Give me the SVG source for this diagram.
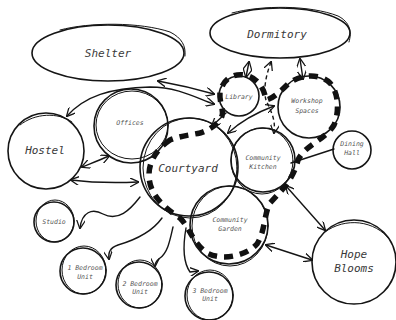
<svg xmlns="http://www.w3.org/2000/svg" width="396" height="320" viewBox="0 0 396 320">
<defs>
<style>
.sk{fill:none;stroke:#151515;stroke-width:1.6;stroke-linecap:round}
.sk2{fill:none;stroke:#151515;stroke-width:1;stroke-linecap:round}
.ln{fill:none;stroke:#151515;stroke-width:1.4;stroke-linecap:round;stroke-linejoin:round}
.dl{fill:none;stroke:#151515;stroke-width:1.4;stroke-dasharray:4 3}
.big{font-family:"DejaVu Sans Mono","Liberation Mono",monospace;font-style:italic;font-size:11px;fill:#3a3a3a;text-anchor:middle}
.sm{font-family:"DejaVu Sans Mono","Liberation Mono",monospace;font-style:italic;font-size:6.5px;fill:#555;text-anchor:middle}
</style>
<marker id="ah" viewBox="0 0 10 10" refX="9" refY="5" markerWidth="9" markerHeight="9" markerUnits="userSpaceOnUse" orient="auto-start-reverse">
<path d="M0,0 L10,5 L0,10" fill="none" stroke="#151515" stroke-width="1.4"/>
</marker>
</defs>
<rect width="396" height="320" fill="#fff"/>

<g id="connectors">
<path class="ln" marker-start="url(#ah)" marker-end="url(#ah)" d="M158,81 C180,85 200,90 214,94"/>
<path class="ln" marker-start="url(#ah)" marker-end="url(#ah)" d="M67,116 C85,96 110,88 150,87 C180,87 200,100 214,104"/>
<path class="ln" marker-start="url(#ah)" marker-end="url(#ah)" d="M82,167 C92,163 100,160 109,156"/>
<path class="ln" marker-start="url(#ah)" marker-end="url(#ah)" d="M71,180 C95,183 115,183 138,182"/>
<path class="ln" marker-end="url(#ah)" d="M140,197 C130,210 118,222 103,214 C92,208 82,212 80,228"/>
<path class="ln" marker-end="url(#ah)" d="M162,218 C152,232 135,240 118,245 C110,248 108,252 109,259"/>
<path class="ln" marker-end="url(#ah)" d="M173,227 C170,240 168,252 160,258 C156,261 155,263 155,266"/>
<path class="ln" marker-end="url(#ah)" d="M186,228 C183,245 183,262 190,272 L198,271"/>
<path class="ln" marker-start="url(#ah)" marker-end="url(#ah)" d="M249,62 L246,77"/>
<path class="ln" marker-start="url(#ah)" marker-end="url(#ah)" d="M300,59 L303,79"/>
<path class="dl" marker-start="url(#ah)" marker-end="url(#ah)" d="M271,62 C266,75 263,90 266,100 C270,110 276,118 274,133"/>
<path class="ln" marker-end="url(#ah)" d="M226,113 L212,126"/>
<path class="ln" marker-start="url(#ah)" marker-end="url(#ah)" d="M274,106 C258,112 240,122 228,133"/>
<path class="ln" d="M291,163 L334,149"/>
<path class="ln" marker-start="url(#ah)" marker-end="url(#ah)" d="M286,186 L325,230"/>
<path class="ln" marker-start="url(#ah)" marker-end="url(#ah)" d="M266,245 L312,260"/>
<path fill="none" stroke="#111" stroke-width="5.5" stroke-dasharray="9 7" d="M170,140 C158,148 149,160 149,175 C149,192 160,205 180,218 C190,228 192,242 207,253 C222,261 246,256 257,244 C265,232 264,214 270,203 C282,190 293,180 298,160 C305,145 325,140 334,125 C340,110 338,92 330,83 C320,73 300,74 288,84 C280,92 272,99 266,100 C264,88 258,78 245,75 C232,73 223,80 220,92 C219,102 224,110 222,116 C218,124 210,130 200,133 C190,135 180,136 170,140 Z"/>
</g>

<g id="shelter">
<ellipse class="sk" cx="108" cy="53" rx="76" ry="28"/>
<path class="sk2" d="M60,30 C90,22 140,22 170,32 C182,38 186,46 185,56"/>
<text class="big" x="108" y="57">Shelter</text>
</g>
<g id="dormitory">
<ellipse class="sk" cx="280" cy="33" rx="70" ry="25"/>
<path class="sk2" d="M232,13 C262,5 310,5 338,16 C350,22 352,32 349,42"/>
<text class="big" x="277" y="38">Dormitory</text>
</g>
<g id="hostel">
<circle class="sk" cx="46" cy="151" r="38"/>
<path class="sk2" d="M20,125 C35,113 58,112 72,122"/>
<text class="big" x="45" y="154">Hostel</text>
</g>
<g id="offices">
<circle class="sk" cx="131" cy="126" r="37"/>
<ellipse class="sk2" cx="132" cy="125" rx="36" ry="34"/>
<text class="sm" x="130" y="125">Offices</text>
</g>
<g id="courtyard">
<circle class="sk" cx="189" cy="167" r="49"/>
<ellipse class="sk2" cx="190" cy="168" rx="47" ry="50"/>
<text class="big" x="188" y="172">Courtyard</text>
</g>
<g id="library">
<circle class="sk" cx="239" cy="96" r="20"/>
<text class="sm" x="239" y="99">Library</text>
</g>
<g id="workshop">
<circle class="sk" cx="309" cy="107" r="31"/>
<text class="sm" x="307" y="103">Workshop</text>
<text class="sm" x="307" y="113">Spaces</text>
</g>
<g id="kitchen">
<circle class="sk" cx="263" cy="160" r="32"/>
<ellipse class="sk2" cx="262" cy="161" rx="31" ry="33"/>
<text class="sm" x="263" y="160">Community</text>
<text class="sm" x="263" y="169">Kitchen</text>
</g>
<g id="dining">
<circle class="sk" cx="352" cy="150" r="19"/>
<text class="sm" x="352" y="146">Dining</text>
<text class="sm" x="352" y="155">Hall</text>
</g>
<g id="garden">
<circle class="sk" cx="229" cy="225" r="39"/>
<ellipse class="sk2" cx="230" cy="226" rx="38" ry="40"/>
<text class="sm" x="230" y="222">Community</text>
<text class="sm" x="230" y="231">Garden</text>
</g>
<g id="hope">
<circle class="sk" cx="354" cy="262" r="42"/>
<path class="sk2" d="M325,232 C345,217 375,220 390,240"/>
<text class="big" x="354" y="258">Hope</text>
<text class="big" x="354" y="272">Blooms</text>
</g>
<g id="studio">
<circle class="sk" cx="54" cy="222" r="20"/>
<ellipse class="sk2" cx="55" cy="221" rx="19" ry="21"/>
<text class="sm" x="54" y="224">Studio</text>
</g>
<g id="bed1">
<circle class="sk" cx="83" cy="271" r="23"/>
<ellipse class="sk2" cx="84" cy="270" rx="22" ry="24"/>
<text class="sm" x="85" y="270">1 Bedroom</text>
<text class="sm" x="85" y="279">Unit</text>
</g>
<g id="bed2">
<circle class="sk" cx="139" cy="285" r="23"/>
<ellipse class="sk2" cx="140" cy="284" rx="22" ry="24"/>
<text class="sm" x="140" y="286">2 Bedroom</text>
<text class="sm" x="140" y="294">Unit</text>
</g>
<g id="bed3">
<circle class="sk" cx="209" cy="296" r="24"/>
<ellipse class="sk2" cx="210" cy="295" rx="23" ry="25"/>
<text class="sm" x="210" y="293">3 Bedroom</text>
<text class="sm" x="210" y="301">Unit</text>
</g>
</svg>
